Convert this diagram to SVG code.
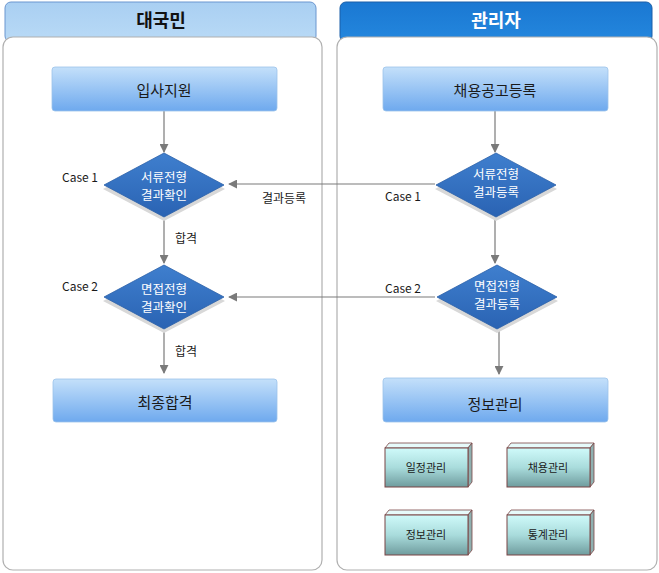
<svg xmlns="http://www.w3.org/2000/svg" width="659" height="573" viewBox="0 0 659 573">
<defs>
<linearGradient id="boxg" x1="0" y1="0" x2="0" y2="1">
<stop offset="0" stop-color="#c4e0fa"/>
<stop offset="1" stop-color="#6ea9ee"/>
</linearGradient>
<linearGradient id="hdrL" x1="0" y1="0" x2="0" y2="1">
<stop offset="0" stop-color="#a9cff2"/>
<stop offset="1" stop-color="#b9daf6"/>
</linearGradient>
<linearGradient id="hdrR" x1="0" y1="0" x2="0" y2="1">
<stop offset="0" stop-color="#1a78d2"/>
<stop offset="1" stop-color="#2487de"/>
</linearGradient>
<linearGradient id="dia" x1="0" y1="0" x2="0" y2="1">
<stop offset="0" stop-color="#3f7fce"/>
<stop offset="1" stop-color="#2a63b3"/>
</linearGradient>
<linearGradient id="cube" x1="0" y1="0" x2="0" y2="1">
<stop offset="0" stop-color="#cffafa"/>
<stop offset="0.5" stop-color="#a9dcdc"/>
<stop offset="1" stop-color="#6f9c9e"/>
</linearGradient>
<marker id="arr" viewBox="0 0 10 10" refX="9" refY="5" markerWidth="9" markerHeight="9" markerUnits="userSpaceOnUse" orient="auto">
<path d="M0,0 L10,5 L0,10 z" fill="#7a7a7a"/>
</marker>
<style>
.panel{fill:#ffffff;stroke:#b0b0b0;stroke-width:1.2}
.box{fill:url(#boxg);stroke:#9cc3ea;stroke-width:0.8}
.bt{font-family:"Noto Sans CJK KR","Noto Sans",sans-serif;font-size:15px;fill:#1a1a1a;text-anchor:middle;dominant-baseline:central}
.dia{fill:url(#dia);stroke:#2a5fa8;stroke-width:0.8}
.dsh{fill:#d8d8d8}
.dt{font-family:"Noto Sans CJK KR","Noto Sans",sans-serif;font-size:12.5px;fill:#ffffff;text-anchor:middle;dominant-baseline:central}
.lbl{font-family:"Noto Sans CJK KR","Noto Sans",sans-serif;font-size:12px;fill:#1a1a1a;dominant-baseline:central}
.con{stroke:#7a7a7a;stroke-width:1.2;fill:none;marker-end:url(#arr)}
.cf{fill:url(#cube);stroke:#7a4545;stroke-width:1}
.cs{fill:#8fb0b0;stroke:#7a4545;stroke-width:0.8}
.ct{fill:#e6fafa;stroke:#7a4545;stroke-width:0.8}
.cxt{font-family:"Noto Sans CJK KR","Noto Sans",sans-serif;font-size:11px;fill:#1a1a1a;text-anchor:middle;dominant-baseline:central}
.ht{font-family:"Noto Sans CJK KR","Noto Sans",sans-serif;font-size:18px;font-weight:bold;text-anchor:middle;dominant-baseline:central}
</style>
</defs>
<rect width="659" height="573" fill="#ffffff"/>

<g id="lane-citizen">
<rect x="5" y="2" width="311" height="40" rx="6" fill="url(#hdrL)" stroke="#6b96cf" stroke-width="1"/>
<text class="ht" x="161" y="19" fill="#111111">대국민</text>
<rect class="panel" x="3" y="37" width="319" height="533" rx="10"/>
</g>
<g id="lane-admin">
<rect x="340" y="2" width="312" height="40" rx="6" fill="url(#hdrR)" stroke="#1a5fa8" stroke-width="1"/>
<text class="ht" x="496" y="19" fill="#ffffff">관리자</text>
<rect class="panel" x="337" y="37" width="320" height="533" rx="10"/>
</g>

<g id="connectors">
<line class="con" x1="164" y1="111" x2="164" y2="152"/>
<line class="con" x1="164" y1="218" x2="164" y2="263"/>
<line class="con" x1="164" y1="330" x2="164" y2="373"/>
<line class="con" x1="495" y1="111" x2="495" y2="152"/>
<line class="con" x1="495" y1="218" x2="495" y2="263"/>
<line class="con" x1="499" y1="330" x2="499" y2="374"/>
<line class="con" x1="435" y1="184" x2="229" y2="184"/>
<line class="con" x1="435" y1="297" x2="229" y2="297"/>
<text class="lbl" x="262" y="197">결과등록</text>
<text class="lbl" x="175" y="237">합격</text>
<text class="lbl" x="175" y="350">합격</text>
<text class="lbl" x="62" y="176">Case 1</text>
<text class="lbl" x="62" y="285">Case 2</text>
<text class="lbl" x="385" y="195">Case 1</text>
<text class="lbl" x="385" y="287">Case 2</text>
</g>

<g id="n-apply">
<rect class="box" x="52" y="67" width="225" height="44" rx="3"/>
<text class="bt" x="164" y="89">입사지원</text>
</g>
<g id="n-doc-check">
<polygon class="dsh" points="164,157 225,189 164,221 103,189"/>
<polygon class="dia" points="164,153 224,185 164,217 104,185"/>
<text class="dt" x="164" y="176">서류전형</text>
<text class="dt" x="164" y="194">결과확인</text>
</g>
<g id="n-int-check">
<polygon class="dsh" points="164,269 225,301 164,333 103,301"/>
<polygon class="dia" points="164,265 224,297 164,329 104,297"/>
<text class="dt" x="164" y="288">면접전형</text>
<text class="dt" x="164" y="306">결과확인</text>
</g>
<g id="n-final">
<rect class="box" x="53" y="379" width="224" height="43" rx="3"/>
<text class="bt" x="165" y="401">최종합격</text>
</g>

<g id="n-post">
<rect class="box" x="383" y="67" width="225" height="44" rx="3"/>
<text class="bt" x="495" y="89">채용공고등록</text>
</g>
<g id="n-doc-reg">
<polygon class="dsh" points="496,157 557,189 496,221 435,189"/>
<polygon class="dia" points="496,153 556,185 496,217 436,185"/>
<text class="dt" x="496" y="173">서류전형</text>
<text class="dt" x="496" y="191">결과등록</text>
</g>
<g id="n-int-reg">
<polygon class="dsh" points="497,269 558,301 497,333 436,301"/>
<polygon class="dia" points="497,265 557,297 497,329 437,297"/>
<text class="dt" x="497" y="285">면접전형</text>
<text class="dt" x="497" y="303">결과등록</text>
</g>
<g id="n-info">
<rect class="box" x="383" y="378" width="225" height="44" rx="3"/>
<text class="bt" x="495" y="403">정보관리</text>
</g>

<g id="n-schedule">
<polygon class="ct" points="385,448 389,443 472,443 468,448"/>
<polygon class="cs" points="468,448 472,443 472,482 468,487"/>
<rect class="cf" x="385" y="448" width="83" height="39"/>
<text class="cxt" x="426" y="467">일정관리</text>
</g>
<g id="n-recruit">
<polygon class="ct" points="507,448 511,443 594,443 590,448"/>
<polygon class="cs" points="590,448 594,443 594,482 590,487"/>
<rect class="cf" x="507" y="448" width="83" height="39"/>
<text class="cxt" x="548" y="467">채용관리</text>
</g>
<g id="n-infomgmt">
<polygon class="ct" points="385,515 389,510 472,510 468,515"/>
<polygon class="cs" points="468,515 472,510 472,550 468,555"/>
<rect class="cf" x="385" y="515" width="83" height="40"/>
<text class="cxt" x="426" y="534">정보관리</text>
</g>
<g id="n-stats">
<polygon class="ct" points="507,515 511,510 594,510 590,515"/>
<polygon class="cs" points="590,515 594,510 594,550 590,555"/>
<rect class="cf" x="507" y="515" width="83" height="40"/>
<text class="cxt" x="548" y="534">통계관리</text>
</g>
</svg>
